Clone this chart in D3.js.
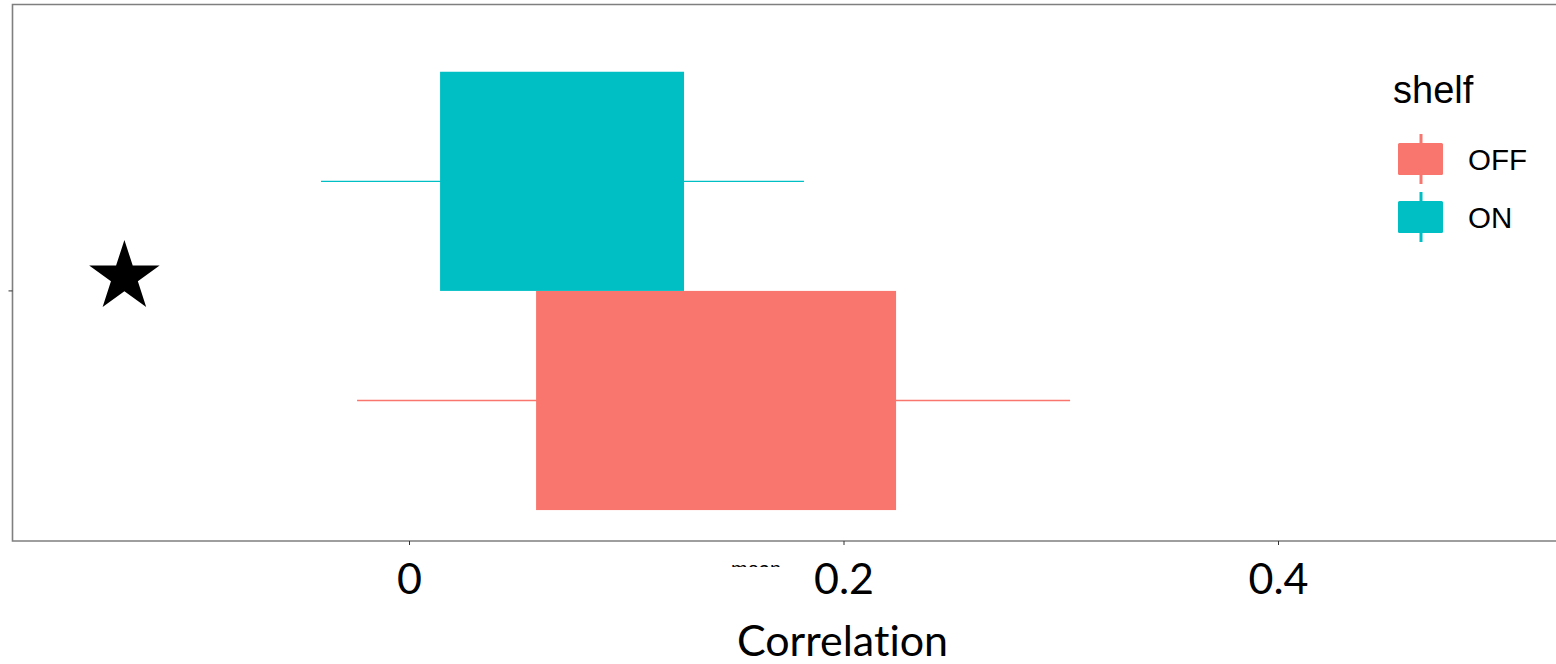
<!DOCTYPE html>
<html>
<head>
<meta charset="utf-8">
<script src="https://cdn.jsdelivr.net/npm/d3@7"></script>
<style>
  html, body { margin: 0; padding: 0; background: #fff; }
  svg { display: block; }
  text { font-variant-ligatures: none; }
</style>
</head>
<body>
<script>
// Shelf position vs. correlation: box spans and whisker ranges
const shelves = ["OFF", "ON"];
const boxLow = [0.0585, 0.0143];
const boxHigh = [0.2242, 0.1266];
const whiskerLow = [-0.0239, -0.0405];
const whiskerHigh = [0.3043, 0.1818];
const xTicks = [0, 0.2, 0.4];
const starX = -0.131;

const colors = { OFF: "#F8766D", ON: "#00BFC4" };

const W = 1556, H = 664;
const plot = { left: 12.5, right: 1556, top: 4.5, bottom: 541 };

const svg = d3.select("body").append("svg").attr("width", W).attr("height", H);

const x = d3.scaleLinear().domain([0, 0.4]).range([409, 1278]);

// one category on the y axis, dodged by shelf inside it
const y = d3.scaleBand().domain([""]).range([plot.top, plot.bottom])
  .paddingInner(0).paddingOuter(0.112).align(0.685);
const yInner = d3.scaleBand().domain(["ON", "OFF"]).range([0, y.bandwidth()]);

const rows = shelves.map((s, i) => ({
  shelf: s, lo: boxLow[i], hi: boxHigh[i], wlo: whiskerLow[i], whi: whiskerHigh[i]
}));

const g = svg.append("g");

// whiskers
g.selectAll("line.whisker").data(rows).enter().append("line")
  .attr("class", "whisker")
  .attr("x1", d => x(d.wlo)).attr("x2", d => x(d.whi))
  .attr("y1", d => y("") + yInner(d.shelf) + yInner.bandwidth() / 2)
  .attr("y2", d => y("") + yInner(d.shelf) + yInner.bandwidth() / 2)
  .attr("stroke", d => colors[d.shelf]).attr("stroke-width", 1.3);

// boxes
g.selectAll("rect.box").data(rows).enter().append("rect")
  .attr("class", "box")
  .attr("x", d => x(d.lo)).attr("width", d => x(d.hi) - x(d.lo))
  .attr("y", d => y("") + yInner(d.shelf))
  .attr("height", yInner.bandwidth())
  .attr("fill", d => colors[d.shelf]);

// significance star
g.append("path")
  .attr("d", d3.symbol().type(d3.symbolStar).size(1540)())
  .attr("transform", `translate(${x(starX)},${277})`)
  .attr("fill", "#000");

// panel border (left, top, bottom)
const axisColor = "#7f7f7f";
svg.append("path")
  .attr("d", `M${plot.right},${plot.top}H${plot.left}V${plot.bottom}H${plot.right}`)
  .attr("fill", "none").attr("stroke", axisColor).attr("stroke-width", 1.6);

// y tick
svg.append("line")
  .attr("x1", plot.left - 4).attr("x2", plot.left)
  .attr("y1", y("") + y.bandwidth() / 2).attr("y2", y("") + y.bandwidth() / 2)
  .attr("stroke", "#333").attr("stroke-width", 1);

// x axis
const xAxis = svg.append("g").attr("transform", `translate(0,${plot.bottom})`)
  .call(d3.axisBottom(x).tickValues(xTicks).tickSize(4).tickPadding(18)
    .tickFormat(d => d === 0 ? "0" : d3.format(".1f")(d)));
xAxis.select(".domain").remove();
xAxis.selectAll(".tick line").attr("stroke", "#333").attr("stroke-width", 1);
xAxis.selectAll(".tick text")
  .attr("font-family", "Lato, 'Open Sans', sans-serif")
  .attr("font-size", 43).attr("fill", "#000");

// faint clipped caption under the axis
const clip = svg.append("defs").append("clipPath").attr("id", "capclip");
clip.append("rect").attr("x", 720).attr("y", 564.5).attr("width", 80).attr("height", 2.5);
svg.append("text")
  .attr("clip-path", "url(#capclip)")
  .attr("x", 756).attr("y", 576)
  .attr("text-anchor", "middle")
  .attr("font-family", "Liberation Sans, Arial, sans-serif")
  .attr("font-size", 20).attr("fill", "#000")
  .text("mean");

// x axis title
svg.append("text")
  .attr("x", x(0.2) - 1).attr("y", 656)
  .attr("text-anchor", "middle")
  .attr("font-family", "Lato, 'Open Sans', sans-serif")
  .attr("font-size", 43).attr("fill", "#000")
  .text("Correlation");

// legend
const legend = svg.append("g").attr("font-family", "Liberation Sans, Arial, sans-serif");
legend.append("text").attr("x", 1393).attr("y", 103)
  .attr("font-size", 38).attr("fill", "#000").text("shelf");

const keyY = { OFF: 143, ON: 201 };
shelves.forEach(s => {
  const ky = keyY[s];
  legend.append("line")
    .attr("x1", 1421).attr("x2", 1421).attr("y1", ky - 9).attr("y2", ky + 41)
    .attr("stroke", colors[s]).attr("stroke-width", 3);
  legend.append("rect")
    .attr("x", 1398).attr("y", ky).attr("width", 45).attr("height", 32)
    .attr("rx", 1.5).attr("fill", colors[s]);
  legend.append("text").attr("x", 1468).attr("y", ky + 27)
    .attr("font-size", 29.5).attr("fill", "#000").text(s);
});
</script>
</body>
</html>
